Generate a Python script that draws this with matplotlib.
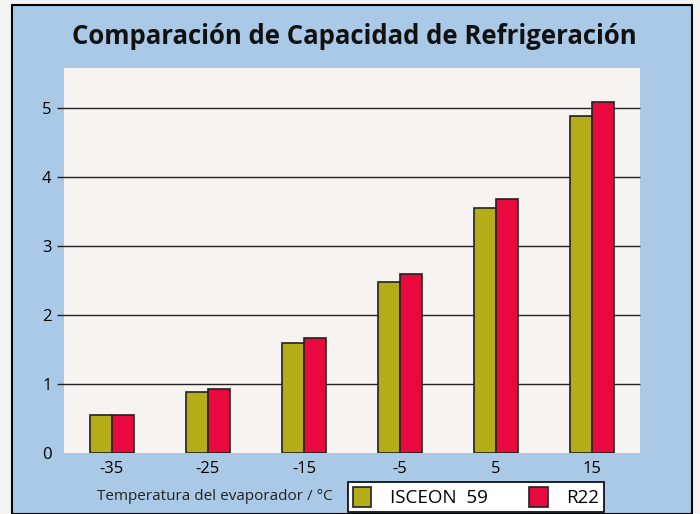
import matplotlib.pyplot as plt
import matplotlib.patches as mpatches
import numpy as np

plt.rcParams['font.family'] = ['Open Sans', 'DejaVu Sans']

temperaturas = ['-35', '-25', '-15', '-5', '5', '15']
isceon59 = [0.55, 0.88, 1.59, 2.48, 3.55, 4.88]
r22 = [0.55, 0.93, 1.67, 2.59, 3.68, 5.09]
niveles = [0, 1, 2, 3, 4, 5]

azul = '#a9c9e6'
fig = plt.figure(figsize=(7, 5.14), dpi=100)
fig.patch.set_facecolor('#f4f4f4')
# panel azul con borde
fondo = mpatches.Rectangle((12/700, 0), 680/700, 509/514, transform=fig.transFigure,
                           facecolor=azul, edgecolor='black', linewidth=1.5, zorder=-5)
fig.patches.append(fondo)

ax = fig.add_axes([64/700, 61/514, 576/700, 385/514])
ax.set_zorder(2)
ax.set_facecolor('#f6f3f0')
x = np.arange(len(temperaturas))
w = 0.23
ax.bar(x - w/2, isceon59, w, color='#b4ad18', edgecolor='#222222', linewidth=1.2,
       label='ISCEON  59', zorder=3)
ax.bar(x + w/2, r22, w, color='#e8093e', edgecolor='#222222', linewidth=1.2,
       label='R22', zorder=3)

ax.set_xlim(-0.5, 5.5)
ax.set_ylim(0, 5.58)
# lineas horizontales (sin linea en 0), empiezan un poco fuera del area
ax.hlines(niveles[1:], -0.57, 5.5, color='#222222', linewidth=1.0, zorder=1,
          clip_on=False)
ax.set_yticks(niveles)
for s in ax.spines.values():
    s.set_visible(False)
ax.set_xticks(x)
ax.set_xticklabels(temperaturas)
ax.tick_params(axis='x', length=0, labelsize=12, pad=6)
ax.tick_params(axis='y', length=0, labelsize=12, pad=9)

fig.text(97/700, 1 - 497/514, 'Temperatura del evaporador / °C', fontsize=11,
         va='center', ha='left', color='#222222')
fig.text(354/700, 1 - 37/514, 'Comparación de Capacidad de Refrigeración',
         fontsize=18.5, fontweight='bold', ha='center', va='center', color='#111111')

leg = fig.legend(loc='center', bbox_to_anchor=(476/700, 1 - 497/514), ncol=2,
                 fontsize=13.5, frameon=True, fancybox=False, edgecolor='black',
                 handlelength=1.0, handleheight=1.3, columnspacing=2.2,
                 handletextpad=1.0, borderpad=0.25, framealpha=1)
leg.get_frame().set_facecolor('white')
leg.get_frame().set_linewidth(1.2)

fig.savefig('out.png', dpi=100, facecolor=fig.get_facecolor())
